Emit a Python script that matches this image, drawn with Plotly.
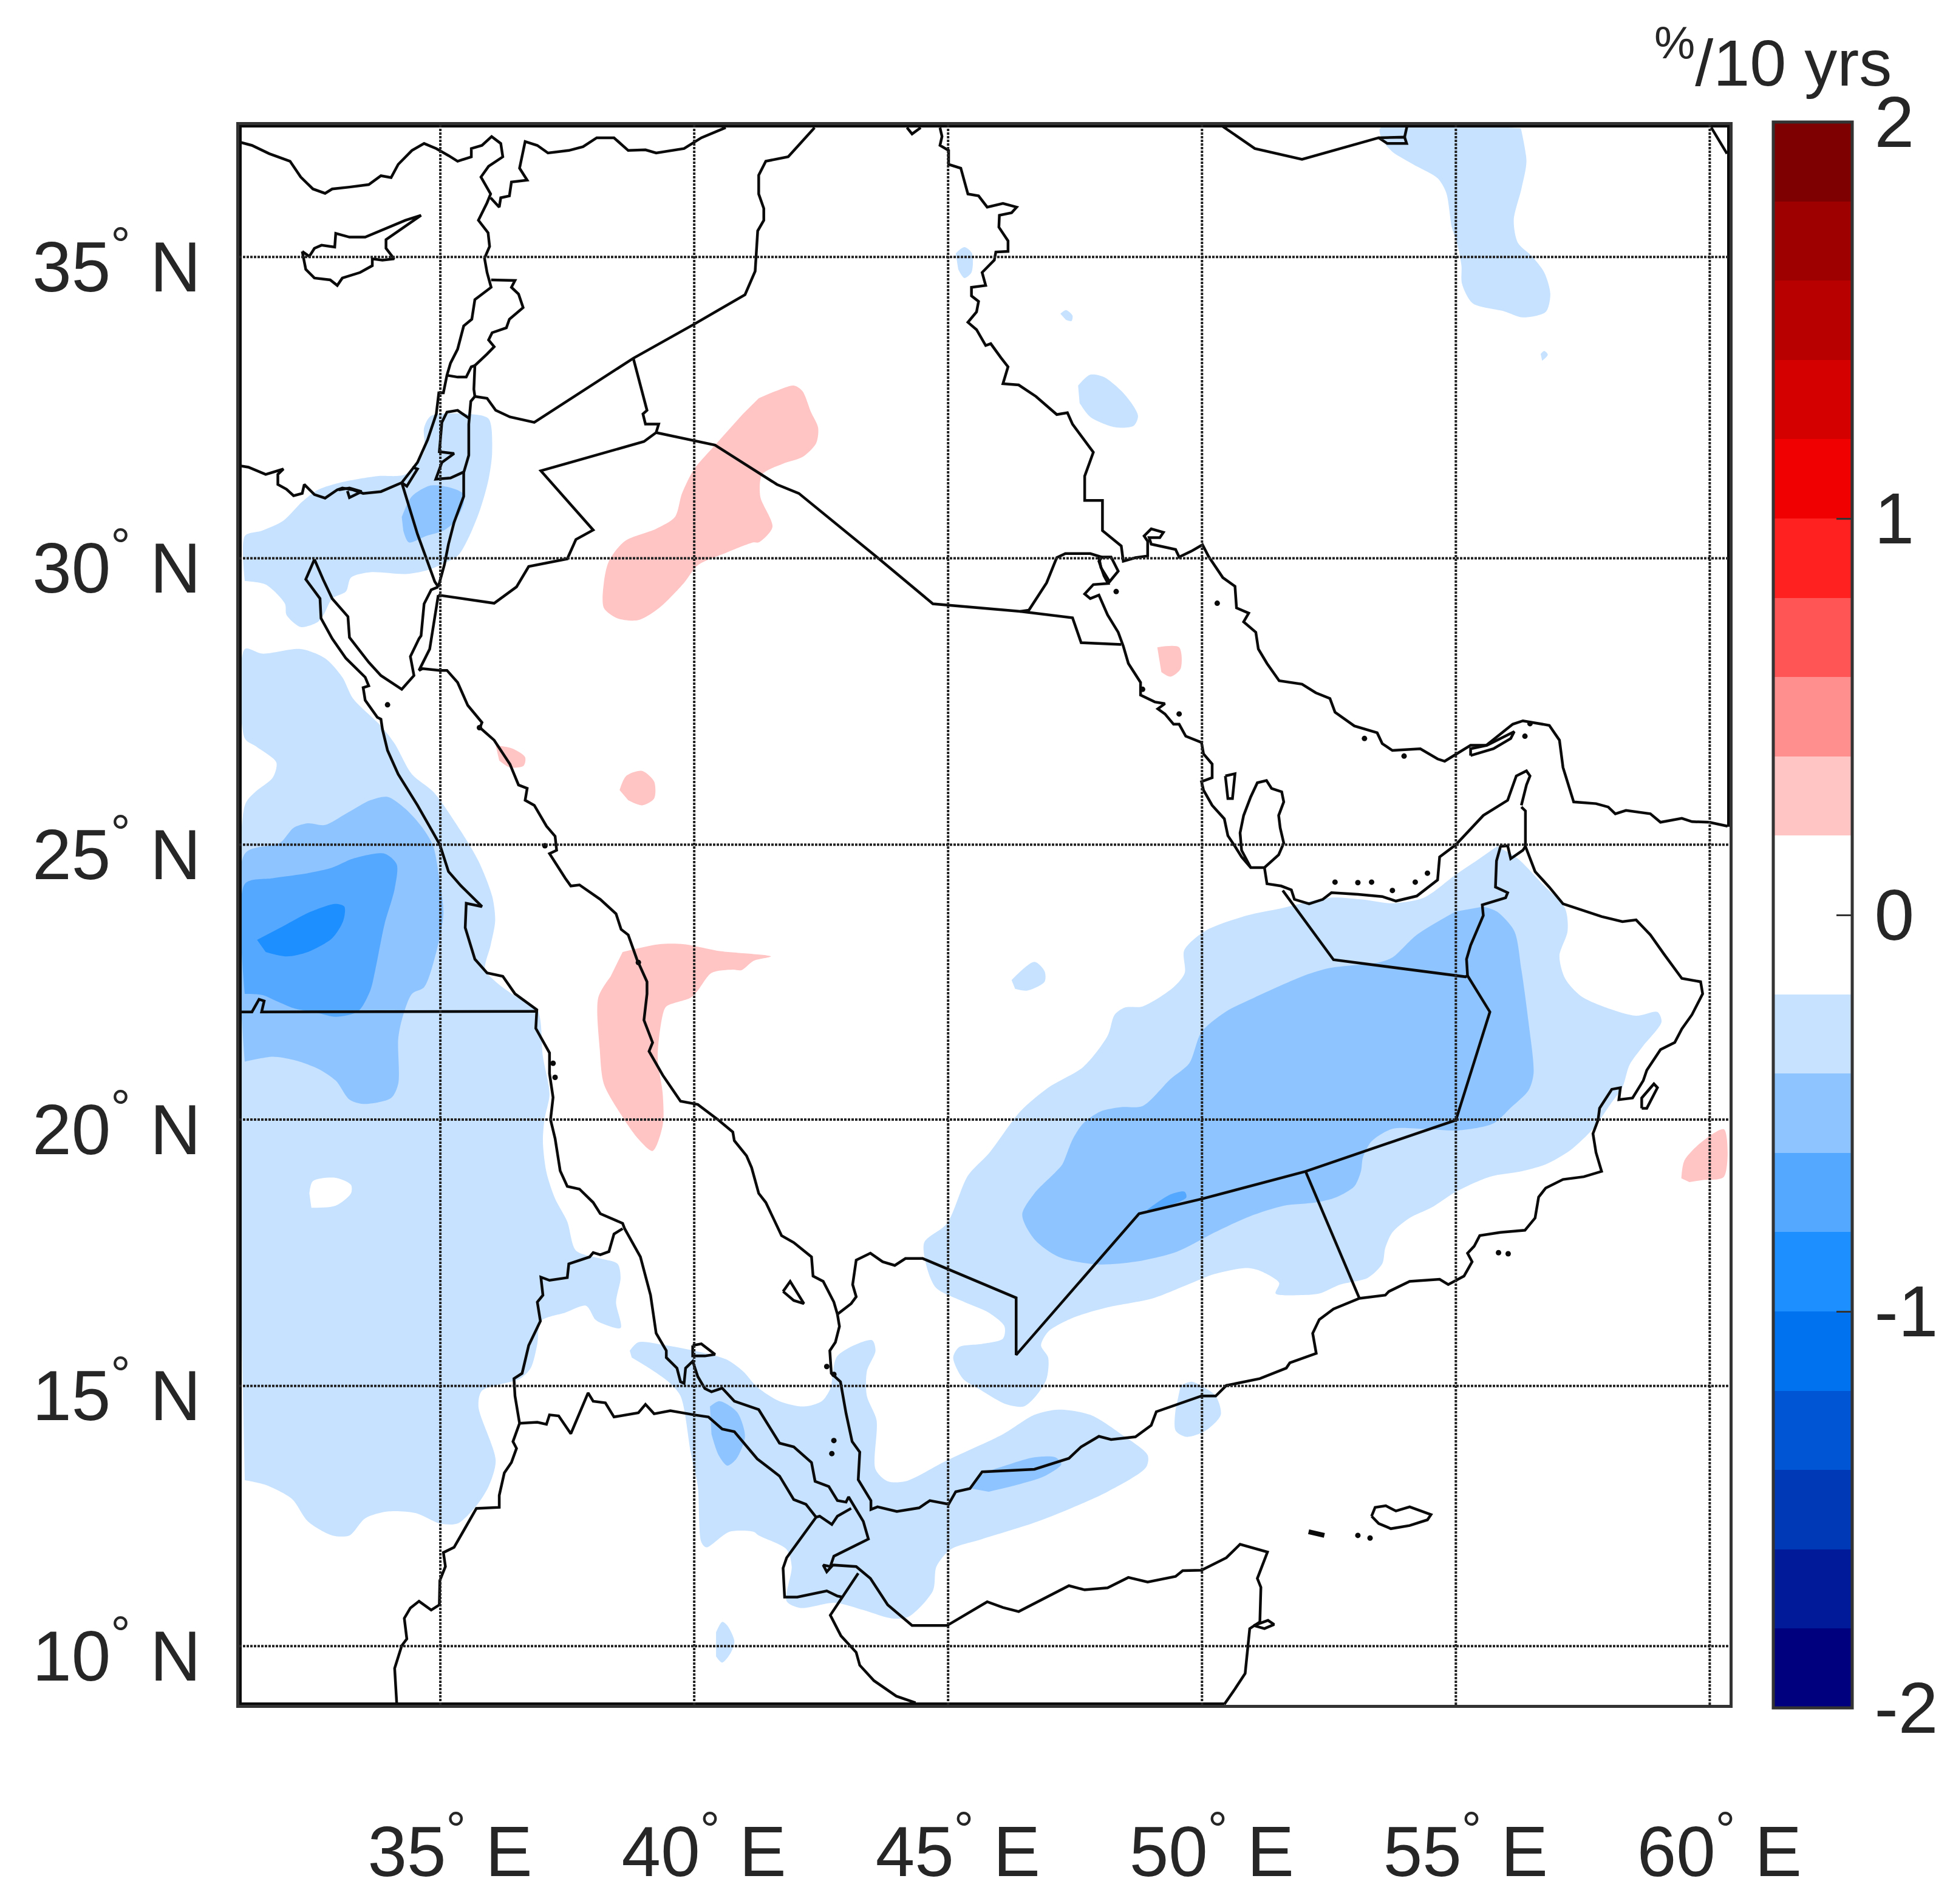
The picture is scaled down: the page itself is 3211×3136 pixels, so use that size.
import numpy as np
import plotly.graph_objects as go

# map extent (degrees), Mercator in y
lon_range = [31.04, 60.39]
lat_range = [8.86, 37.10]
lon_ticks = [35, 40, 45, 50, 55, 60]
lat_ticks = [10, 15, 20, 25, 30, 35]

# colorbar bands from -2 to 2, bottom to top
band_colors = ['#00007f', '#001a99', '#0039b5', '#0055d4', '#0072f0', '#1e8fff', '#55a8ff', '#8ec4ff', '#c6e2ff', '#ffffff',
               '#ffffff', '#ffc4c4', '#ff8f8f', '#ff5555', '#ff2020', '#f00000', '#d40000', '#b80000', '#9e0000', '#7f0000']
cbar_ticks = [-2, -1, 0, 1, 2]

# trend contours, lon/lat
sea_l1 = [(31.15,28.44),(31.49,28.36),(32.25,28.44),(32.73,28.28),(33.07,27.95),(33.28,27.58),(33.83,27.10),(34.10,26.79),(34.44,26.25),(34.86,25.94),(35.34,25.33),(35.75,24.71),(36.02,24.08),(36.08,23.64),(35.99,23.19),(35.88,22.75),(36.09,22.53),(36.47,22.27),(36.91,22.02),(37.02,21.16),(37.15,20.47),(37.05,20.00),(37.02,19.58),(37.09,19.02),(37.26,18.53),(37.50,18.10),(37.67,17.56),(38.15,17.41),(38.49,17.31),(38.55,17.05),(38.46,16.59),(38.55,16.10),(38.15,16.20),(38.05,16.26),(37.87,16.52),(37.46,16.39),(36.98,16.23),(36.91,15.80),(36.78,15.34),(36.57,15.14),(35.82,14.91),(35.75,14.61),(36.09,13.58),(35.95,13.08),(35.71,12.71),(35.34,12.37),(34.99,12.37),(34.51,12.57),(33.96,12.60),(33.52,12.47),(33.21,12.14),(32.87,12.14),(32.39,12.41),(32.08,12.84),(31.56,13.11),(31.15,13.20),(31.15,13.20),(31.15,25.70),(31.36,25.94),(31.70,26.19),(31.77,26.46),(31.39,26.73),(31.15,26.88),(31.15,28.44)]
sea_hole = [(32.42,18.63),(32.49,18.86),(32.94,18.92),(33.24,18.79),(33.24,18.63),(32.94,18.40),(32.46,18.36)]
sea_l2 = [(31.15,24.84),(31.84,25.03),(32.11,25.30),(32.39,25.38),(32.73,25.35),(33.14,25.55),(33.62,25.79),(33.96,25.85),(34.31,25.64),(34.65,25.30),(34.86,24.97),(34.99,24.33),(35.06,23.76),(34.92,23.07),(34.68,22.43),(34.44,22.31),(34.24,21.83),(34.17,21.48),(34.17,20.66),(34.03,20.40),(33.48,20.29),(33.21,20.37),(32.94,20.72),(32.59,20.94),(32.11,21.10),(31.70,21.16),(31.15,21.07),(31.15,21.07),(31.15,24.84)]
sea_l3 = [(31.15,24.30),(31.70,24.40),(32.39,24.49),(32.87,24.59),(33.28,24.75),(33.90,24.84),(34.14,24.65),(34.10,24.21),(33.90,23.57),(33.72,22.75),(33.62,22.37),(33.38,21.99),(32.94,21.89),(32.59,21.96),(32.11,22.05),(31.77,22.18),(31.49,22.29),(31.15,22.31),(31.15,22.31),(31.15,24.30)]
sea_l4 = [(31.39,23.29),(31.91,23.54),(32.45,23.80),(32.94,23.94),(33.11,23.89),(33.09,23.64),(32.87,23.32),(32.39,23.07),(31.97,22.99),(31.56,23.07)]
sinai_l1 = [(31.15,30.38),(31.49,30.47),(31.91,30.64),(32.28,30.96),(32.59,31.16),(33.07,31.29),(33.76,31.39),(34.31,31.42),(34.68,31.80),(34.68,32.20),(34.82,32.40),(35.54,32.43),(35.95,32.35),(36.02,31.80),(35.95,31.34),(35.78,30.82),(35.54,30.32),(35.34,30.04),(34.99,29.88),(34.72,29.79),(34.31,29.73),(33.62,29.76),(33.24,29.67),(33.14,29.43),(32.87,29.31),(32.70,29.03),(32.59,28.91),(32.25,28.82),(31.97,29.03),(31.94,29.22),(31.56,29.55),(31.15,29.61),(31.15,29.61),(31.15,30.38)]
sinai_l2 = [(34.24,30.70),(34.44,31.05),(34.79,31.23),(35.13,31.21),(35.44,31.10),(35.46,30.93),(35.27,30.61),(35.06,30.47),(34.72,30.38),(34.38,30.27),(34.27,30.47)]
arabia_l1 = [(55.81,24.97),(56.22,24.75),(56.70,24.30),(57.15,23.86),(57.20,23.45),(57.04,23.00),(57.15,22.59),(57.46,22.27),(57.90,22.08),(58.55,21.91),(58.97,21.98),(59.05,21.80),(58.69,21.36),(58.42,21.01),(58.28,20.60),(58.04,20.28),(57.70,19.83),(57.25,19.43),(56.77,19.17),(56.29,19.04),(55.67,18.94),(55.00,18.66),(54.51,18.36),(54.09,18.17),(53.75,17.90),(53.61,17.61),(53.55,17.31),(53.27,17.05),(52.72,16.92),(52.31,16.75),(51.90,16.72),(51.45,16.75),(51.52,16.95),(51.14,17.18),(50.87,17.23),(50.25,17.12),(49.72,16.92),(49.03,16.66),(48.14,16.49),(47.45,16.29),(46.97,16.03),(46.83,15.77),(46.97,15.54),(46.94,15.14),(46.73,14.81),(46.49,14.61),(46.15,14.65),(45.60,14.95),(45.29,15.14),(45.10,15.54),(45.22,15.74),(45.67,15.80),(46.08,15.90),(46.11,16.13),(45.80,16.39),(45.32,16.59),(44.77,16.85),(44.60,17.18),(44.53,17.71),(44.98,18.07),(45.39,18.96),(45.80,19.37),(46.42,20.15),(46.97,20.59),(47.66,20.97),(48.14,21.54),(48.28,21.93),(48.48,22.06),(48.83,22.08),(49.44,22.43),(49.66,22.69),(49.65,23.10),(50.06,23.45),(50.89,23.73),(51.57,23.86),(52.52,24.05),(53.13,24.02),(53.75,23.95),(54.37,24.05),(54.99,24.46),(55.40,24.71)]
arabia_l2 = [(55.54,23.89),(55.81,23.80),(56.15,23.45),(56.29,22.75),(56.43,21.80),(56.53,20.85),(56.43,20.54),(56.08,20.22),(55.74,19.93),(55.05,19.80),(54.37,19.83),(53.75,19.83),(53.34,19.60),(53.17,19.30),(53.13,19.04),(53.00,18.76),(52.65,18.56),(52.24,18.46),(51.62,18.40),(50.94,18.20),(50.25,17.90),(49.51,17.54),(48.69,17.35),(47.93,17.30),(47.18,17.44),(46.70,17.77),(46.46,18.23),(46.70,18.63),(47.11,19.02),(47.25,19.17),(47.45,19.63),(47.66,19.93),(48.00,20.15),(48.41,20.23),(48.83,20.25),(49.38,20.75),(49.75,21.04),(49.99,21.61),(50.48,21.99),(51.03,22.24),(52.04,22.65),(52.52,22.78),(53.48,22.88),(53.75,22.97),(54.23,23.38),(54.99,23.80)]
arabia_l3 = [(48.93,18.33),(49.38,18.61),(49.66,18.66),(49.69,18.55),(48.90,18.27)]
horn_l1 = [(38.73,15.67),(38.90,15.83),(39.45,15.77),(40.00,15.67),(40.62,15.51),(40.96,15.28),(41.24,14.98),(41.68,14.71),(42.16,14.61),(42.51,14.71),(42.68,14.95),(42.82,15.57),(43.50,15.87),(43.57,15.67),(43.40,15.28),(43.40,14.81),(43.59,14.35),(43.57,13.41),(43.81,13.18),(44.16,13.18),(44.98,13.58),(46.08,14.08),(46.70,14.45),(47.18,14.55),(47.80,14.45),(48.41,14.08),(48.93,13.68),(48.90,13.45),(48.14,12.98),(46.77,12.41),(45.67,12.07),(45.05,11.87),(44.77,11.54),(44.70,11.07),(44.22,10.57),(43.88,10.54),(43.33,10.70),(42.78,10.84),(42.09,10.74),(41.82,10.87),(41.92,11.54),(41.82,11.87),(41.27,12.14),(41.17,12.21),(40.69,12.21),(40.24,11.91),(40.14,12.01),(40.07,13.08),(39.93,13.74),(39.73,14.81),(39.49,15.08),(39.11,15.34),(38.77,15.54)]
horn_l2 = [(40.31,14.61),(40.48,14.71),(40.65,14.65),(40.86,14.48),(41.00,14.04),(40.83,13.61),(40.65,13.48),(40.48,13.68),(40.34,14.08)]
yemen_l2 = [(45.46,13.04),(45.67,13.31),(46.22,13.51),(46.70,13.64),(47.11,13.64),(47.23,13.51),(46.90,13.28),(46.35,13.11),(45.80,12.98)]
blue_patches = [
    [(49.58,15.01),(49.79,15.08),(49.99,15.00),(50.27,14.81),(50.37,14.45),(50.06,14.14),(49.69,14.03),(49.48,14.15),(49.48,14.55)],
    [(40.43,10.27),(40.55,10.47),(40.65,10.40),(40.79,10.10),(40.72,9.87),(40.55,9.68),(40.43,9.80)],
    [(45.15,35.06),(45.32,35.16),(45.47,35.06),(45.46,34.75),(45.32,34.66),(45.20,34.80)],
    [(47.21,34.08),(47.32,34.14),(47.45,34.05),(47.43,33.96),(47.32,33.98)],
    [(47.56,32.90),(47.80,33.08),(48.07,33.04),(48.48,32.75),(48.74,32.40),(48.65,32.23),(48.28,32.21),(47.80,32.38),(47.59,32.61)],
    [(53.51,37.05),(53.55,36.87),(53.75,36.68),(54.16,36.48),(54.64,36.26),(54.81,36.03),(54.92,35.48),(55.02,35.23),(55.11,34.86),(55.12,34.57),(55.33,34.25),(55.95,34.12),(56.32,34.02),(56.77,34.11),(56.86,34.40),(56.74,34.75),(56.50,35.01),(56.22,35.23),(56.14,35.59),(56.29,36.09),(56.39,36.53),(56.28,37.05),(56.28,37.05),(53.51,37.05)],
    [(56.67,33.42),(56.74,33.47),(56.81,33.41),(56.70,33.31)],
    [(46.25,22.56),(46.70,22.89),(46.90,22.72),(46.90,22.53),(46.56,22.37),(46.32,22.40)],
]
pink_patches = [
    [(41.27,32.69),(41.61,32.81),(41.96,32.90),(42.13,32.81),(42.30,32.46),(42.44,32.20),(42.40,31.94),(42.13,31.71),(41.75,31.60),(41.34,31.42),(41.30,31.05),(41.54,30.53),(41.27,30.27),(41.17,30.27),(40.62,30.09),(40.07,29.88),(39.80,29.58),(39.31,29.15),(38.90,28.94),(38.49,28.97),(38.22,29.15),(38.22,29.58),(38.32,29.95),(38.63,30.29),(39.25,30.50),(39.62,30.70),(39.76,31.10),(40.00,31.51),(40.41,31.91),(40.96,32.43)],
    [(49.12,28.47),(49.55,28.47),(49.58,28.10),(49.38,27.96),(49.20,28.04)],
    [(36.09,26.76),(36.43,26.70),(36.67,26.55),(36.64,26.40),(36.37,26.37),(36.16,26.49)],
    [(38.53,25.97),(38.66,26.22),(38.97,26.31),(39.21,26.12),(39.21,25.82),(38.97,25.70),(38.70,25.79)],
    [(38.59,23.07),(39.31,23.21),(39.80,23.21),(40.48,23.09),(41.51,22.99),(41.17,22.91),(40.93,22.74),(40.76,22.75),(40.34,22.69),(40.07,22.37),(39.93,22.24),(39.45,22.08),(39.38,21.93),(39.28,21.16),(39.38,20.47),(39.38,19.90),(39.18,19.42),(38.90,19.64),(38.56,20.09),(38.22,20.66),(38.14,21.29),(38.11,22.24),(38.35,22.62)],
    [(59.44,18.91),(59.50,19.24),(59.82,19.57),(60.28,19.82),(60.28,18.94),(59.87,18.88),(59.60,18.84)],
]

# coastlines and borders, lon/lat
med_coast = [(31.01,36.84),(31.29,36.78),(31.63,36.65),(32.04,36.53),(32.25,36.28),(32.49,36.09),(32.73,36.02),(32.87,36.09),(33.21,36.12),(33.59,36.16),(33.83,36.30),(34.03,36.27),(34.17,36.48),(34.44,36.70),(34.68,36.81),(34.92,36.73),(35.16,36.62),(35.34,36.53),(35.61,36.60),(35.61,36.73),(35.82,36.78),(36.01,36.92),(36.19,36.81),(36.23,36.60),(35.95,36.45),(35.80,36.28),(35.99,36.01),(35.92,35.87),(35.75,35.59),(35.94,35.39),(35.97,35.17),(35.87,34.98),(35.92,34.75),(36.00,34.51),(35.68,34.31),(35.62,33.99),(35.46,33.88),(35.34,33.50),(35.20,33.27),(35.13,33.07),(35.06,32.78),(34.97,32.78),(34.92,32.43),(34.75,32.00),(34.55,31.62),(34.24,31.28),(33.83,31.13),(33.48,31.10),(33.28,31.16),(33.07,31.19),(32.97,31.16),(32.73,31.02),(32.52,31.08),(32.32,31.25),(32.28,31.10),(32.11,31.06),(31.97,31.17),(31.80,31.25),(31.80,31.42),(31.91,31.51),(31.56,31.42),(31.22,31.54),(31.01,31.57)]
cyprus = [(32.28,35.09),(32.35,34.80),(32.52,34.66),(32.83,34.63),(32.97,34.54),(33.07,34.66),(33.42,34.75),(33.66,34.86),(33.66,34.97),(33.86,34.95),(34.09,34.97),(33.93,35.14),(33.93,35.28),(34.24,35.45),(34.62,35.67),(34.31,35.59),(33.90,35.45),(33.52,35.32),(33.21,35.32),(32.94,35.38),(32.92,35.16),(32.66,35.19),(32.52,35.14),(32.42,35.01),(32.28,35.09)]
lagoon = [(33.00,31.16),(33.21,31.19),(33.45,31.13),(33.21,31.03),(33.17,31.14)]
turkey_border = [(35.99,35.95),(36.16,35.80),(36.19,35.95),(36.36,35.98),(36.40,36.20),(36.71,36.23),(36.56,36.42),(36.67,36.84),(36.91,36.78),(37.12,36.66),(37.53,36.70),(37.81,36.76),(38.08,36.90),(38.42,36.90),(38.70,36.70),(39.04,36.71),(39.25,36.66),(39.80,36.73),(40.14,36.90),(40.62,37.06)]
syria_iraq = [(42.37,37.06),(41.85,36.60),(41.41,36.53),(41.27,36.31),(41.27,36.01),(41.37,35.78),(41.37,35.59),(41.25,35.42),(41.20,34.77),(41.00,34.39),(40.00,33.91),(38.80,33.35),(36.85,32.29),(36.37,32.38),(36.09,32.49),(35.92,32.69),(35.68,32.72),(35.60,32.64),(35.56,32.26),(35.56,31.74),(35.46,31.45),(35.46,31.05),(35.27,30.61),(35.16,30.24),(35.08,29.89),(34.96,29.51)]
lebanon_east = [(36.00,34.63),(36.47,34.62),(36.40,34.51),(36.54,34.40),(36.63,34.18),(36.36,33.99),(36.30,33.85),(36.02,33.77),(35.95,33.65),(36.06,33.54),(35.92,33.42),(35.68,33.23),(35.66,32.84),(35.68,32.72)]
lebanon_south = [(35.13,33.07),(35.34,33.04),(35.51,33.04),(35.61,33.21),(35.68,33.23)]
west_bank = [(35.56,32.36),(35.34,32.49),(35.13,32.46),(35.03,32.29),(34.98,31.80),(35.27,31.77),(35.03,31.62),(34.91,31.34),(35.20,31.36),(35.46,31.46)]
egypt_israel = [(34.24,31.28),(34.55,30.41),(34.89,29.60),(34.96,29.51)]
gaza = [(34.24,31.28),(34.34,31.22),(34.55,31.51),(34.45,31.54)]
jordan_saudi = [(34.96,29.37),(36.06,29.23),(36.50,29.51),(36.74,29.86),(37.50,29.99),(37.67,30.32),(38.01,30.48),(36.98,31.48),(39.01,31.97),(39.25,32.12),(39.30,32.26),(39.04,32.26),(38.99,32.43),(39.07,32.49),(38.80,33.35)]
iraq_saudi = [(39.25,32.12),(40.41,31.91),(41.63,31.25),(42.06,31.10),(43.64,29.99),(44.70,29.22),(46.42,29.09),(46.59,29.11),(46.94,29.58),(47.14,30.01),(47.31,30.08),(47.80,30.08),(48.03,30.02)]
kuwait_saudi = [(46.42,29.09),(47.45,28.98),(47.62,28.55),(48.41,28.52)]
gulf_west = [(48.03,30.02),(47.97,29.95),(48.07,29.70),(48.15,29.57),(47.86,29.55),(47.69,29.39),(47.80,29.31),(47.97,29.37),(48.14,29.03),(48.35,28.73),(48.45,28.49),(48.55,28.19),(48.79,27.86),(48.79,27.64),(49.07,27.52),(49.27,27.49),(49.13,27.40),(49.27,27.31),(49.44,27.13),(49.55,27.13),(49.68,26.92),(49.99,26.81),(50.03,26.61),(50.20,26.43),(50.20,26.19),(49.99,26.12),(50.03,25.97),(50.20,25.70),(50.44,25.46),(50.51,25.16),(50.65,24.97),(50.78,24.78),(50.96,24.59),(51.23,24.59),(51.51,24.82),(51.61,25.03),(51.54,25.30),(51.51,25.52),(51.61,25.76),(51.57,25.94),(51.37,26.00),(51.27,26.14),(51.09,26.10),(50.96,25.85),(50.82,25.52),(50.75,25.21),(50.78,24.90),(50.96,24.59)]
uae_coast = [(51.23,24.59),(51.28,24.30),(51.56,24.26),(51.76,24.19),(51.82,24.02),(52.11,23.94),(52.38,24.02),(52.55,24.14),(53.07,24.11),(53.55,24.07),(53.82,23.99),(54.23,24.08),(54.64,24.37),(54.68,24.78),(55.00,25.00),(55.54,25.52),(56.02,25.79),(56.12,26.06),(56.19,26.22),(56.39,26.31),(56.46,26.22),(56.39,26.06),(56.29,25.70)]
oman_coast = [(56.37,24.97),(56.56,24.52),(56.84,24.24),(57.11,23.94),(57.87,23.71),(58.28,23.62),(58.55,23.65),(58.83,23.38),(59.10,23.03),(59.45,22.59),(59.82,22.53),(59.86,22.31),(59.65,21.93),(59.45,21.67),(59.31,21.42),(59.03,21.29),(58.76,20.91),(58.69,20.72),(58.48,20.40),(58.21,20.37),(58.24,20.59),(58.07,20.56),(57.83,20.21),(57.80,19.99),(57.70,19.74),(57.76,19.39),(57.87,19.04),(57.52,18.94),(57.11,18.89),(56.77,18.73),(56.63,18.56),(56.56,18.17),(56.36,17.94),(55.88,17.90),(55.47,17.84),(55.36,17.64),(55.23,17.51),(55.32,17.35),(55.16,17.08),(54.85,16.92),(54.68,17.02),(54.09,16.98),(53.68,16.79),(53.61,16.72),(53.10,16.66),(52.59,16.46),(52.31,16.26),(52.18,16.00),(52.25,15.62),(51.73,15.44),(51.66,15.34),(51.14,15.14),(50.48,15.01),(50.27,14.81),(49.99,14.81),(49.10,14.51),(49.00,14.25),(48.69,14.03),(48.21,13.98),(47.97,14.04),(47.62,13.84),(47.38,13.62),(46.70,13.41),(45.67,13.36),(45.43,13.04),(45.15,12.98),(45.01,12.74),(44.64,12.81),(44.43,12.67),(43.99,12.60),(43.61,12.69),(43.48,12.64),(43.48,12.81),(43.23,13.21),(43.26,13.74),(43.11,13.94),(42.99,14.48),(42.88,15.08),(42.70,15.24),(42.67,15.67),(42.78,15.83),(42.86,16.13),(42.82,16.36)]
uae_oman_border = [(51.59,24.18),(52.59,22.93),(55.19,22.62),(55.23,22.64),(55.21,22.94),(55.29,23.19),(55.54,23.73),(55.52,23.92),(55.98,24.05),(56.02,24.14),(55.78,24.24),(55.80,24.71),(55.88,24.97),(56.02,24.98),(56.08,24.75),(56.32,24.90),(56.37,24.97),(56.37,25.60),(56.29,25.67)]
oman_saudi_border = [(55.23,22.64),(55.67,21.98),(55.00,19.99),(52.04,19.04),(50.01,18.53),(48.76,18.25),(46.34,15.59),(46.34,16.67),(44.50,17.41),(44.16,17.41),(43.95,17.28),(43.71,17.35),(43.47,17.51),(43.19,17.38),(43.12,16.92),(43.19,16.69),(43.09,16.56),(42.82,16.36)]
yemen_oman_border = [(52.04,19.04),(53.10,16.66)]
saudi_red_sea = [(34.96,29.37),(34.82,28.62),(34.79,28.44),(34.58,28.07),(34.65,28.10),(34.99,28.07),(35.13,28.07),(35.34,27.86),(35.54,27.46),(35.82,27.16),(35.78,27.07),(36.06,26.85),(36.37,26.43),(36.54,26.06),(36.71,26.00),(36.67,25.79),(36.85,25.70),(37.09,25.33),(37.26,25.15),(37.29,24.90),(37.15,24.84),(37.46,24.40),(37.57,24.26),(37.74,24.28),(38.15,24.02),(38.46,23.76),(38.56,23.48),(38.70,23.38),(38.87,22.94),(39.07,22.53),(39.07,22.31),(39.01,21.83),(39.18,21.42),(39.11,21.26),(39.38,20.82),(39.73,20.34),(40.07,20.28),(40.48,19.99),(40.76,19.77),(40.79,19.61),(41.03,19.33),(41.13,19.11),(41.27,18.63),(41.41,18.46),(41.55,18.17),(41.72,17.84),(41.96,17.71),(42.31,17.44),(42.34,17.08),(42.54,16.98),(42.75,16.59),(42.82,16.36)]
sinai_coast = [(32.52,29.98),(32.69,29.64),(32.87,29.31),(33.18,29.00),(33.21,28.64),(33.59,28.21),(33.83,27.98),(34.24,27.74),(34.48,27.98),(34.41,28.31),(34.58,28.62),(34.62,28.67),(34.68,29.22),(34.82,29.46),(34.96,29.51)]
africa_red_sea = [(32.52,29.98),(32.35,29.64),(32.63,29.31),(32.65,28.97),(32.87,28.62),(33.14,28.28),(33.52,27.95),(33.59,27.80),(33.48,27.77),(33.52,27.55),(33.76,27.25),(33.83,27.22),(33.86,27.04),(33.96,26.67),(34.17,26.25),(34.55,25.70),(34.86,25.21),(34.99,25.00),(35.16,24.52),(35.40,24.27),(35.82,23.89),(35.51,23.95),(35.49,23.51),(35.68,22.94),(35.92,22.69),(36.23,22.63),(36.47,22.31),(36.90,22.02),(36.88,21.68),(37.15,21.23),(37.15,20.85),(37.22,20.41),(37.17,20.00),(37.26,19.65),(37.36,19.05),(37.50,18.76),(37.74,18.71),(38.01,18.46),(38.15,18.25),(38.59,18.07),(38.63,17.97),(38.94,17.44),(39.14,16.72),(39.25,16.00),(39.45,15.67),(39.45,15.54),(39.66,15.34),(39.73,15.08),(39.80,15.05),(39.83,15.34),(39.97,15.47),(40.07,15.18),(40.21,14.95),(40.34,14.89),(40.55,14.96),(40.79,14.71),(41.27,14.55),(41.68,13.91),(41.96,13.84),(42.31,13.54),(42.38,13.18),(42.65,13.08),(42.82,12.81),(42.99,12.78),(43.04,12.88),(43.33,12.41),(43.43,12.07),(43.19,11.95),(42.75,11.74),(42.68,11.54),(42.54,11.57),(42.61,11.44),(42.73,11.57),(43.19,11.54),(43.47,11.31),(43.81,10.80),(44.29,10.40),(44.98,10.40),(45.39,10.64),(45.77,10.86),(46.08,10.75),(46.39,10.67),(47.38,11.17),(47.69,11.09),(48.14,11.13),(48.55,11.33),(48.93,11.24),(49.48,11.35),(49.62,11.46),(49.99,11.47),(50.48,11.71),(50.75,11.97),(51.29,11.82),(51.09,11.31),(51.16,11.14),(51.14,10.47),(50.94,10.34),(50.85,9.47),(50.65,9.17),(50.44,8.87)]
egypt_sudan = [(31.05,21.98),(31.29,21.98),(31.43,22.21),(31.53,22.18),(31.48,21.98),(36.90,21.99)]
sudan_east = [(38.59,17.97),(38.42,17.87),(38.32,17.54),(38.15,17.48),(38.01,17.52),(37.94,17.44),(37.53,17.31),(37.50,17.05),(37.15,17.00),(36.98,17.06),(37.02,16.72),(36.91,16.59),(36.97,16.23),(36.74,15.77),(36.61,15.24),(36.45,15.14),(36.47,14.81),(36.56,14.29),(36.43,13.94),(36.50,13.81),(36.40,13.54),(36.26,13.34),(36.16,12.91),(36.16,12.68),(35.71,12.66),(35.27,11.91),(35.06,11.81),(35.10,11.54),(34.99,11.27),(34.98,10.80),(34.82,10.70),(34.58,10.87),(34.41,10.74),(34.29,10.54),(34.34,10.14),(34.24,10.01),(34.10,9.57),(34.14,8.90)]
eritrea_ethiopia = [(36.56,14.29),(36.91,14.31),(37.09,14.27),(37.15,14.45),(37.33,14.43),(37.57,14.09),(37.91,14.87),(38.01,14.71),(38.25,14.68),(38.42,14.41),(38.90,14.49),(39.04,14.65),(39.21,14.47),(39.53,14.53),(40.00,14.45),(40.28,14.41),(40.55,14.18),(40.79,14.13),(41.24,13.61),(41.68,13.28),(41.96,12.83),(42.20,12.74),(42.40,12.49),(42.47,12.51),(42.71,12.35),(42.82,12.51),(43.09,12.66)]
djibouti_somalia = [(42.40,12.49),(41.82,11.71),(41.75,11.51),(41.78,10.95),(42.03,10.95),(42.61,11.07),(42.82,10.97),(42.92,10.95)]
somalia_ethiopia = [(43.23,11.41),(42.68,10.60),(42.89,10.20),(43.19,9.88),(43.26,9.63),(43.54,9.33),(43.98,9.03),(44.36,8.90)]
iran_coast = [(44.84,37.06),(44.88,36.92),(44.84,36.78),(45.01,36.70),(45.01,36.48),(45.25,36.42),(45.39,36.01),(45.60,35.98),(45.77,35.80),(46.08,35.86),(46.35,35.80),(46.25,35.71),(46.01,35.67),(46.00,35.48),(46.18,35.26),(46.18,35.09),(45.94,35.08),(45.91,34.95),(45.67,34.75),(45.74,34.54),(45.46,34.51),(45.46,34.37),(45.60,34.28),(45.56,34.11),(45.39,33.94),(45.56,33.82),(45.74,33.56),(45.84,33.59),(46.04,33.36),(46.18,33.21),(46.08,32.93),(46.39,32.91),(46.73,32.72),(47.14,32.42),(47.35,32.45),(47.45,32.26),(47.86,31.79),(47.69,31.39),(47.69,30.98),(48.04,30.98),(48.04,30.47),(48.41,30.21),(48.45,29.95),(48.69,30.01),(48.93,30.04),(48.93,30.29),(48.86,30.38),(49.00,30.50),(49.24,30.44),(49.17,30.35),(48.96,30.35),(49.00,30.24),(49.48,30.15),(49.55,30.02),(49.79,30.12),(50.01,30.23),(50.13,30.03),(50.41,29.67),(50.65,29.52),(50.68,29.15),(50.92,29.06),(50.82,28.91),(51.06,28.73),(51.11,28.44),(51.28,28.19),(51.52,27.89),(51.97,27.83),(52.24,27.68),(52.52,27.58),(52.62,27.34),(53.00,27.10),(53.45,26.98),(53.55,26.79),(53.75,26.67),(54.30,26.70),(54.64,26.52),(54.78,26.48),(55.29,26.76),(55.60,26.76),(55.95,27.01),(56.12,27.13),(56.32,27.19),(56.84,27.11),(57.04,26.85),(57.11,26.37),(57.32,25.76),(57.76,25.73),(58.00,25.67),(58.14,25.55),(58.35,25.61),(58.83,25.55),(59.03,25.40),(59.45,25.47),(59.65,25.41),(59.99,25.40),(60.35,25.33)]
caspian_coast = [(50.39,37.09),(51.04,36.73),(51.97,36.56),(52.86,36.76),(53.48,36.90),(53.65,36.81),(54.03,36.81),(53.99,36.91),(53.48,36.90)]
caspian_east = [(53.99,36.91),(54.04,37.09)]
urmia_tip = [(44.19,37.06),(44.29,36.96),(44.46,37.06)]
corner_border = [(60.03,37.06),(60.34,36.65)]
bubiyan = [(47.97,30.02),(48.21,30.02),(48.35,29.78),(48.18,29.60),(48.01,29.84),(47.97,30.02)]
islands = [
    [(50.46,26.22),(50.65,26.26),(50.60,25.82),(50.51,25.82),(50.46,26.22)],
    [(55.29,26.58),(55.29,26.70),(55.61,26.76),(56.15,27.00),(56.08,26.88),(55.74,26.70),(55.29,26.58)],
    [(53.34,12.51),(53.41,12.68),(53.62,12.71),(53.82,12.61),(54.09,12.69),(54.51,12.54),(54.44,12.44),(54.09,12.33),(53.72,12.27),(53.48,12.37),(53.34,12.51)],
    [(58.66,20.21),(58.66,20.40),(58.90,20.66),(58.97,20.59),(58.76,20.21),(58.66,20.21)],
    [(39.97,15.77),(40.14,15.80),(40.41,15.60),(40.21,15.57),(39.97,15.57),(39.97,15.77)],
    [(41.75,16.79),(41.89,16.98),(42.16,16.56),(41.96,16.62),(41.75,16.79)],
    [(51.02,10.40),(51.30,10.50),(51.42,10.42),(51.23,10.34),(51.02,10.40)],
]
island_bars = [(52.10,12.21),(52.41,12.14)]
island_dots = [(33.96,27.47),(35.77,27.07),(37.06,24.98),(38.90,22.88),(37.22,21.04),(37.26,20.78),(48.83,27.74),(48.31,29.43),(50.30,29.23),(49.55,27.31),(53.07,24.32),(53.34,24.33),(53.75,24.18),(54.20,24.33),(54.44,24.49),(52.62,24.33),(56.46,27.14),(56.36,26.92),(53.20,26.88),(53.98,26.57),(42.61,15.37),(42.75,15.22),(42.75,13.96),(42.71,13.71),(53.07,12.14),(53.31,12.09),(55.84,17.52),(56.03,17.50)]
# where the land outline runs along the map frame
frame_edge = [(60.39,25.32),(60.39,37.10),(31.04,37.10),(31.04,8.86),(50.44,8.86)]


def merc(lat):
    lat = np.radians(np.asarray(lat, dtype=float))
    return np.degrees(np.log(np.tan(np.pi / 4 + lat / 2)))


def add_fill(fig, pts, color):
    lon, lat = zip(*pts)
    fig.add_trace(go.Scatter(x=lon, y=merc(lat), mode='lines', fill='toself', fillcolor=color,
                             line=dict(color=color, width=0, shape='spline', smoothing=0.8), hoverinfo='skip'))


def add_line(fig, pts, width=4.5, clip=True):
    lon, lat = zip(*pts)
    fig.add_trace(go.Scatter(x=lon, y=merc(lat), mode='lines', line=dict(color='#0a0a0a', width=width),
                             cliponaxis=clip, hoverinfo='skip'))


fig = go.Figure()

# contours, palest first
for pts in [sea_l1, sinai_l1, arabia_l1, horn_l1] + blue_patches:
    add_fill(fig, pts, band_colors[8])
add_fill(fig, sea_hole, '#ffffff')
for pts in [sea_l2, sinai_l2, arabia_l2, horn_l2, yemen_l2]:
    add_fill(fig, pts, band_colors[7])
for pts in [sea_l3, arabia_l3]:
    add_fill(fig, pts, band_colors[6])
add_fill(fig, sea_l4, band_colors[5])
for pts in pink_patches:
    add_fill(fig, pts, band_colors[11])

# land
for pts in [med_coast, cyprus, lagoon, turkey_border, syria_iraq, lebanon_east, lebanon_south, west_bank, egypt_israel,
            gaza, jordan_saudi, iraq_saudi, kuwait_saudi, gulf_west, uae_coast, oman_coast, uae_oman_border,
            oman_saudi_border, yemen_oman_border, saudi_red_sea, sinai_coast, africa_red_sea, egypt_sudan, sudan_east,
            eritrea_ethiopia, djibouti_somalia, somalia_ethiopia, iran_coast, caspian_coast, caspian_east, urmia_tip,
            corner_border, bubiyan] + islands:
    add_line(fig, pts)
add_line(fig, island_bars, width=8)
dot_lon, dot_lat = zip(*island_dots)
fig.add_trace(go.Scatter(x=dot_lon, y=merc(dot_lat), mode='markers', marker=dict(color='#0a0a0a', size=9), hoverinfo='skip'))
add_line(fig, frame_edge, width=8, clip=False)

# grid sits above the fills
grid_line = dict(color='#222222', width=4, dash='4px,2px')
for lon in lon_ticks:
    fig.add_vline(x=lon, line=grid_line, layer='above')
for lat in lat_ticks:
    fig.add_hline(y=float(merc(lat)), line=grid_line, layer='above')

# colorbar
n_bands = len(band_colors)
cscale = []
for i, c in enumerate(band_colors):
    cscale += [[i / n_bands, c], [(i + 1) / n_bands, c]]
fig.add_trace(go.Scatter(
    x=[None], y=[None], mode='markers', hoverinfo='skip',
    marker=dict(color=[0], cmin=-2, cmax=2, colorscale=cscale, colorbar=dict(
        x=1.0293, xanchor='left', xpad=0, ypad=0, y=0.5, yanchor='middle', len=1.004, thickness=130,
        outlinecolor='#333333', outlinewidth=5, ticks='inside', ticklen=28, tickwidth=3, tickcolor='#333333',
        tickmode='array', tickvals=cbar_ticks, ticktext=['\u200a' + str(v) for v in cbar_ticks],
        tickfont=dict(family='Liberation Sans', size=118, color='#262626')))))

fig.add_annotation(text='<sup>%</sup>/10 yrs', xref='paper', yref='paper', x=1.1096, y=1.0154, xanchor='right', yanchor='bottom',
                   showarrow=False, font=dict(family='Liberation Sans', size=108, color='#262626'))

tick_font = dict(family='Liberation Sans', size=116, color='#262626')
fig.update_xaxes(range=lon_range, showgrid=False, zeroline=False, showline=True, mirror=True, linecolor='#333333', linewidth=5,
                 tickmode='array', tickvals=lon_ticks, ticktext=[f'{v}<sup>°</sup> E' for v in lon_ticks],
                 ticks='', tickfont=tick_font, ticklabelstandoff=138, ticklabelshift=16)
fig.update_yaxes(range=[float(merc(lat_range[0])), float(merc(lat_range[1]))], showgrid=False, zeroline=False, showline=True,
                 mirror=True, linecolor='#333333', linewidth=5,
                 tickmode='array', tickvals=[float(merc(v)) for v in lat_ticks], ticktext=[f'{v}<sup>°</sup> N' for v in lat_ticks],
                 ticks='', tickfont=tick_font, ticklabelstandoff=35, ticklabelshift=16)
# page body adds 8px on the top and left
fig.update_layout(width=3203, height=3128, margin=dict(l=386, r=363, t=198, b=328, autoexpand=False),
                  plot_bgcolor='#ffffff', paper_bgcolor='#ffffff', showlegend=False)

fig.write_html("out.html")
